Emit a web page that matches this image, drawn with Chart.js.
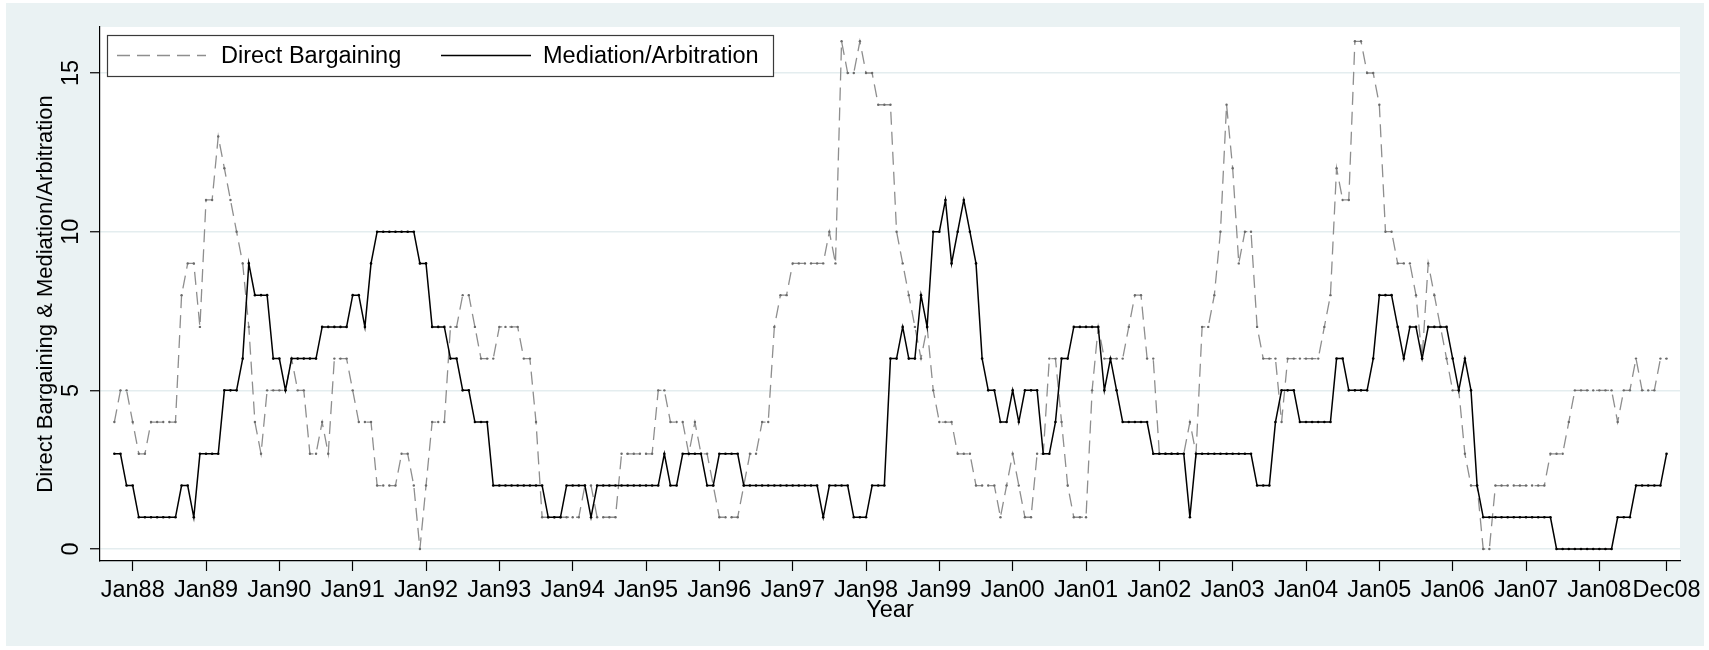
<!DOCTYPE html>
<html>
<head>
<meta charset="utf-8">
<title>Direct Bargaining and Mediation/Arbitration, monthly</title>
<script src="https://cdn.jsdelivr.net/npm/chart.js@4.4.0/dist/chart.umd.min.js"></script>
<style>
  html, body { margin: 0; padding: 0; background: #ffffff; }
  canvas { display: block; }
</style>
</head>
<body>
<canvas id="chart" width="1709" height="650"></canvas>
<script>
// Monthly counts, October 1987 through December 2008 (one row per calendar year).
const firstMonthOffset = -3; // Oct 1987 sits three months before Jan 1988

const directBargaining = [
  4, 5, 5,                                   // 1987 (Oct-Dec)
  4, 3, 3, 4, 4, 4, 4, 4, 8, 9, 9, 7,        // 1988
  11, 11, 13, 12, 11, 10, 9, 7, 4, 3, 5, 5,  // 1989
  5, 5, 6, 5, 5, 3, 3, 4, 3, 6, 6, 6,        // 1990
  5, 4, 4, 4, 2, 2, 2, 2, 3, 3, 2, 0,        // 1991
  2, 4, 4, 4, 7, 7, 8, 8, 7, 6, 6, 6,        // 1992
  7, 7, 7, 7, 6, 6, 4, 1, 1, 1, 1, 1,        // 1993
  1, 1, 2, 2, 1, 1, 1, 1, 3, 3, 3, 3,        // 1994
  3, 3, 5, 5, 4, 4, 4, 3, 4, 3, 3, 2,        // 1995
  1, 1, 1, 1, 2, 3, 3, 4, 4, 7, 8, 8,        // 1996
  9, 9, 9, 9, 9, 9, 10, 9, 16, 15, 15, 16,   // 1997
  15, 15, 14, 14, 14, 10, 9, 8, 7, 6, 7, 5,  // 1998
  4, 4, 4, 3, 3, 3, 2, 2, 2, 2, 1, 2,        // 1999
  3, 2, 1, 1, 3, 3, 6, 6, 4, 2, 1, 1,        // 2000
  1, 5, 7, 6, 6, 6, 6, 7, 8, 8, 6, 6,        // 2001
  3, 3, 3, 3, 3, 4, 3, 7, 7, 8, 10, 14,      // 2002
  12, 9, 10, 10, 7, 6, 6, 6, 4, 6, 6, 6,     // 2003
  6, 6, 6, 7, 8, 12, 11, 11, 16, 16, 15, 15, // 2004
  14, 10, 10, 9, 9, 9, 8, 6, 9, 8, 7, 6,     // 2005
  5, 5, 3, 2, 2, 0, 0, 2, 2, 2, 2, 2,        // 2006
  2, 2, 2, 2, 3, 3, 3, 4, 5, 5, 5, 5,        // 2007
  5, 5, 5, 4, 5, 5, 6, 5, 5, 5, 6, 6         // 2008
];

const mediationArbitration = [
  3, 3, 2,                                   // 1987 (Oct-Dec)
  2, 1, 1, 1, 1, 1, 1, 1, 2, 2, 1, 3,        // 1988
  3, 3, 3, 5, 5, 5, 6, 9, 8, 8, 8, 6,        // 1989
  6, 5, 6, 6, 6, 6, 6, 7, 7, 7, 7, 7,        // 1990
  8, 8, 7, 9, 10, 10, 10, 10, 10, 10, 10, 9, // 1991
  9, 7, 7, 7, 6, 6, 5, 5, 4, 4, 4, 2,        // 1992
  2, 2, 2, 2, 2, 2, 2, 2, 1, 1, 1, 2,        // 1993
  2, 2, 2, 1, 2, 2, 2, 2, 2, 2, 2, 2,        // 1994
  2, 2, 2, 3, 2, 2, 3, 3, 3, 3, 2, 2,        // 1995
  3, 3, 3, 3, 2, 2, 2, 2, 2, 2, 2, 2,        // 1996
  2, 2, 2, 2, 2, 1, 2, 2, 2, 2, 1, 1,        // 1997
  1, 2, 2, 2, 6, 6, 7, 6, 6, 8, 7, 10,       // 1998
  10, 11, 9, 10, 11, 10, 9, 6, 5, 5, 4, 4,   // 1999
  5, 4, 5, 5, 5, 3, 3, 4, 6, 6, 7, 7,        // 2000
  7, 7, 7, 5, 6, 5, 4, 4, 4, 4, 4, 3,        // 2001
  3, 3, 3, 3, 3, 1, 3, 3, 3, 3, 3, 3,        // 2002
  3, 3, 3, 3, 2, 2, 2, 4, 5, 5, 5, 4,        // 2003
  4, 4, 4, 4, 4, 6, 6, 5, 5, 5, 5, 6,        // 2004
  8, 8, 8, 7, 6, 7, 7, 6, 7, 7, 7, 7,        // 2005
  6, 5, 6, 5, 2, 1, 1, 1, 1, 1, 1, 1,        // 2006
  1, 1, 1, 1, 1, 0, 0, 0, 0, 0, 0, 0,        // 2007
  0, 0, 0, 1, 1, 1, 2, 2, 2, 2, 2, 3         // 2008
];

// x axis: months counted from January 1988
const tickMonths = [0, 12, 24, 36, 48, 60, 72, 84, 96, 108, 120, 132, 144, 156, 168, 180, 192, 204, 216, 228, 240, 251];
const tickLabels = ['Jan88', 'Jan89', 'Jan90', 'Jan91', 'Jan92', 'Jan93', 'Jan94', 'Jan95', 'Jan96', 'Jan97',
                    'Jan98', 'Jan99', 'Jan00', 'Jan01', 'Jan02', 'Jan03', 'Jan04', 'Jan05', 'Jan06', 'Jan07',
                    'Jan08', 'Dec08'];
const yTickValues = [0, 5, 10, 15];

const FONT = 'Liberation Sans, Arial, Helvetica, sans-serif';
const TEXT_SIZE = 23.5;

const toPoints = (values) => values.map((v, i) => ({ x: i + firstMonthOffset, y: v }));

// Light bluish-gray graph region with a white plot region on top
const backdrop = {
  id: 'backdrop',
  beforeDraw(chart) {
    const { ctx, chartArea: a } = chart;
    const o = chart.options.plugins.backdrop;
    ctx.save();
    ctx.fillStyle = '#ffffff';
    ctx.fillRect(0, 0, chart.width, chart.height);
    ctx.fillStyle = o.regionColor;
    ctx.fillRect(o.left, o.top, chart.width - o.left - o.right, chart.height - o.top - o.bottom);
    ctx.fillStyle = '#ffffff';
    ctx.fillRect(a.left, a.top, a.right - a.left, a.bottom - a.top);
    ctx.restore();
  }
};

// Boxed, single-row legend inside the plot region
const boxLegend = {
  id: 'boxLegend',
  afterDraw(chart) {
    const { ctx } = chart;
    const o = chart.options.plugins.boxLegend;
    const cy = o.y + o.h / 2;
    ctx.save();
    ctx.fillStyle = '#ffffff';
    ctx.fillRect(o.x, o.y, o.w, o.h);
    ctx.strokeStyle = '#3a3a3a';
    ctx.lineWidth = 1.2;
    ctx.strokeRect(o.x + 0.5, o.y + 0.5, o.w, o.h);
    ctx.font = `${TEXT_SIZE}px ${FONT}`;
    ctx.textBaseline = 'middle';
    ctx.textAlign = 'left';
    chart.data.datasets.forEach((ds, i) => {
      const it = o.items[i];
      ctx.beginPath();
      ctx.setLineDash(ds.borderDash || []);
      ctx.strokeStyle = ds.borderColor;
      ctx.lineWidth = ds.borderWidth;
      ctx.moveTo(it.lineFrom, cy);
      ctx.lineTo(it.lineTo, cy);
      ctx.stroke();
      ctx.setLineDash([]);
      ctx.fillStyle = '#000000';
      ctx.fillText(ds.label, it.textX, cy + 1);
    });
    ctx.restore();
  }
};

new Chart(document.getElementById('chart'), {
  type: 'line',
  data: {
    datasets: [
      {
        label: 'Direct Bargaining',
        data: toPoints(directBargaining),
        borderColor: '#8e8e8e',
        borderWidth: 1.3,
        borderDash: [13, 7],
        pointRadius: 1.2,
        pointBorderWidth: 0,
        pointBackgroundColor: '#6a6a6a',
        tension: 0,
        order: 1
      },
      {
        label: 'Mediation/Arbitration',
        data: toPoints(mediationArbitration),
        borderColor: '#000000',
        borderWidth: 1.5,
        pointRadius: 1.3,
        pointBorderWidth: 0,
        pointBackgroundColor: '#000000',
        tension: 0,
        order: 0
      }
    ]
  },
  options: {
    responsive: false,
    animation: false,
    events: [],
    layout: { padding: { left: 0, right: 29, top: 27, bottom: 0 } },
    plugins: {
      legend: { display: false },
      tooltip: { enabled: false },
      backdrop: { regionColor: '#eaf2f3', left: 6, top: 3, right: 5, bottom: 4 },
      boxLegend: {
        x: 107, y: 35, w: 666, h: 41,
        items: [
          { lineFrom: 117, lineTo: 206, textX: 221 },
          { lineFrom: 441, lineTo: 531, textX: 543 }
        ]
      }
    },
    scales: {
      x: {
        type: 'linear',
        min: -5.35,
        max: 253.2,
        afterBuildTicks(scale) { scale.ticks = tickMonths.map(v => ({ value: v })); },
        afterFit(scale) { scale.height = 89; },
        ticks: {
          autoSkip: false,
          maxRotation: 0,
          minRotation: 0,
          padding: 5,
          color: '#000000',
          font: { family: FONT, size: TEXT_SIZE },
          callback: (value) => tickLabels[tickMonths.indexOf(value)]
        },
        grid: { drawOnChartArea: false, drawTicks: true, tickLength: 10, tickColor: '#000000', tickWidth: 1.2 },
        border: { display: true, color: '#000000', width: 1.2 },
        title: {
          display: true,
          text: 'Year',
          color: '#000000',
          font: { family: FONT, size: TEXT_SIZE },
          padding: { top: 0, bottom: 25 }
        }
      },
      y: {
        type: 'linear',
        min: -0.378,
        max: 16.45,
        afterBuildTicks(scale) { scale.ticks = yTickValues.map(v => ({ value: v })); },
        afterFit(scale) { scale.width = 100; },
        ticks: {
          minRotation: 90,
          maxRotation: 90,
          crossAlign: 'center',
          padding: 5,
          color: '#000000',
          font: { family: FONT, size: TEXT_SIZE }
        },
        grid: { color: '#e4edef', lineWidth: 1.5, drawTicks: true, tickLength: 10, tickColor: '#000000', tickWidth: 1.2 },
        border: { display: true, color: '#000000', width: 1.2 },
        title: {
          display: true,
          text: 'Direct Bargaining & Mediation/Arbitration',
          color: '#000000',
          font: { family: FONT, size: 22 },
          padding: { top: 33, bottom: 0 }
        }
      }
    }
  },
  plugins: [backdrop, boxLegend]
});
</script>
</body>
</html>
